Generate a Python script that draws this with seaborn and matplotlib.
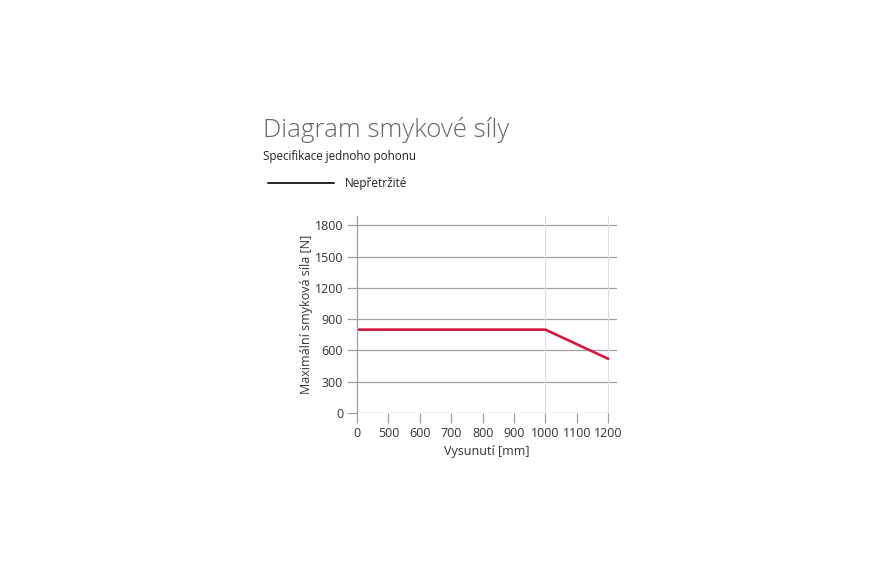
import matplotlib
matplotlib.use("Agg")
import matplotlib.pyplot as plt
import seaborn as sns
import pandas as pd

# === Data ===
x_ticks = ['0', '500', '600', '700', '800', '900', '1000', '1100', '1200']
y_ticks = [0, 300, 600, 900, 1200, 1500, 1800]
line_x = ['0', '1000', '1200']
line_y = [800, 800, 520]
marked_x = ['1000', '1200']  # vertical guide lines

title = 'Diagram smykové síly'
subtitle = 'Specifikace jednoho pohonu'
legend_label = 'Nepřetržité'
xlabel = 'Vysunutí [mm]'
ylabel = 'Maximální smyková síla [N]'

red = '#d6163e'
grey = '#a0a0a0'
text_col = '#333333'

sns.set_theme(style='white')
plt.rcParams['font.family'] = ['Open Sans', 'DejaVu Sans']

fig = plt.figure(figsize=(8.85, 5.75), dpi=100)
ax = fig.add_axes([0.4034, 0.2817, 0.2938, 0.3426])

df = pd.DataFrame({'pos': [x_ticks.index(v) for v in line_x], 'force': line_y})
sns.lineplot(data=df, x='pos', y='force', color=red, linewidth=1.9, ax=ax, sort=False)

for y in y_ticks:
    ax.axhline(y, color=grey, linewidth=0.9, zorder=0)
for v in marked_x:
    ax.axvline(x_ticks.index(v), color='#dddddd', linewidth=0.8, zorder=0)

ax.set_xlim(0, 8.28)
ax.set_ylim(0, 1890)
ax.set_xticks(range(len(x_ticks)))
ax.set_xticklabels(x_ticks)
ax.set_yticks(y_ticks)

for s in ['top', 'right', 'bottom']:
    ax.spines[s].set_visible(False)
ax.spines['left'].set_color(grey)
ax.spines['left'].set_linewidth(0.9)

ax.tick_params(axis='both', which='both', length=7, width=0.9, color=grey,
               labelsize=9, labelcolor=text_col, pad=3)
ax.tick_params(axis='x', direction='out', bottom=True)
ax.tick_params(axis='y', direction='out', left=True)

ax.set_xlabel(xlabel, fontsize=9, color=text_col, labelpad=4)
ax.set_ylabel(ylabel, fontsize=9, color=text_col, labelpad=1)

# Title block
fig.text(263 / 885, 1 - 130 / 575, title, fontsize=18.6, color='#666666',
         fontweight='light', ha='left', va='center')
fig.text(263 / 885, 1 - 157 / 575, subtitle, fontsize=8.4, color='#222222',
         ha='left', va='center')
fig.add_artist(plt.Line2D([268 / 885, 334 / 885], [1 - 183 / 575, 1 - 183 / 575],
                          color='#222222', linewidth=1.4))
fig.text(345 / 885, 1 - 183 / 575, legend_label, fontsize=8.5, color='#222222',
         ha='left', va='center')

fig.savefig('out.png', dpi=100, facecolor='white')
